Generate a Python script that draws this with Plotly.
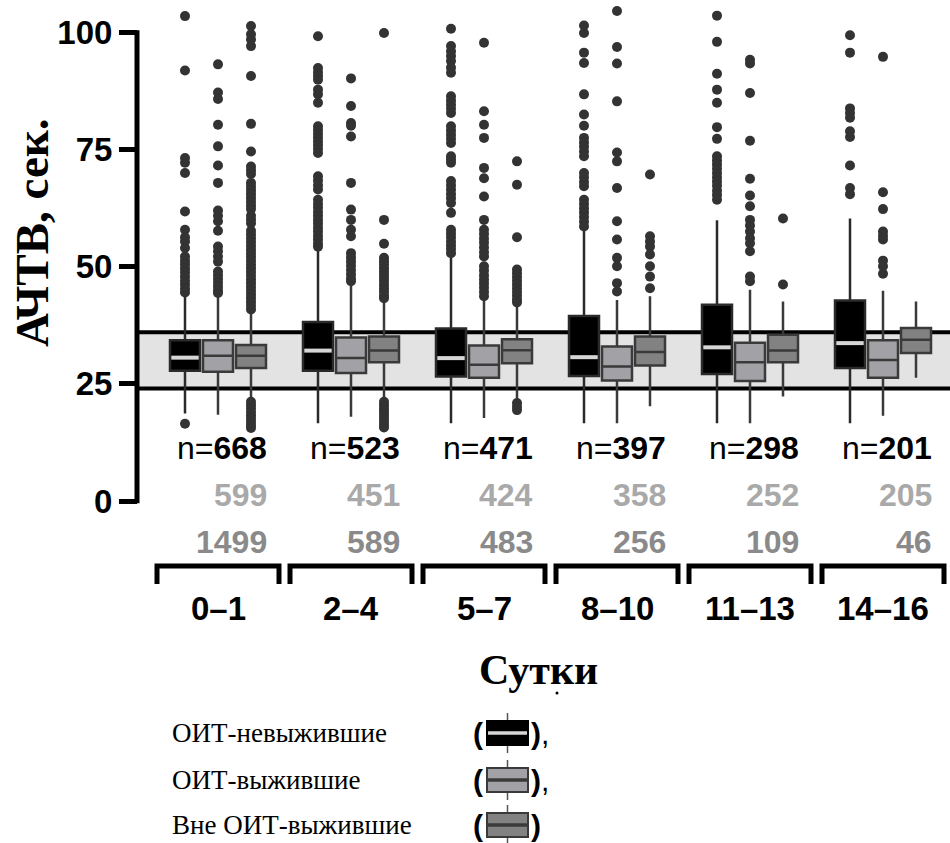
import plotly.graph_objects as go

# ---------------- data ----------------
groups = ["0–1", "2–4", "5–7", "8–10", "11–13", "14–16"]
series_names = ["ОИТ-невыжившие", "ОИТ-выжившие", "Вне ОИТ-выжившие"]

# ОИТ-невыжившие (black)
dead_q1 = [27.8, 27.8, 26.6, 26.7, 27.1, 28.4]
dead_med = [30.6, 32.1, 30.5, 30.7, 32.8, 33.7]
dead_q3 = [34.3, 38.2, 36.8, 39.5, 41.9, 42.8]
dead_lo = [18.7, 16.6, 16.6, 16.6, 16.6, 16.6]
dead_hi = [43.7, 53.6, 51.9, 57.9, 59.9, 60.3]
dead_out = [
    [103.5, 91.9, 73.2, 72.2, 70.0, 61.8, 57.9, 56.3, 55.4, 54.0, 52.2, 51.3, 50.5, 49.6,
     48.8, 47.9, 47.0, 46.2, 45.3, 44.5, 16.5],
    [99.2, 92.4, 91.5, 90.7, 89.9, 87.8, 86.8, 85.0, 80.0, 79.2, 78.4, 77.6, 76.8, 76.0,
     75.2, 74.3, 69.3, 68.4, 67.4, 66.5, 64.3, 63.4, 62.6, 61.7, 60.9, 60.0, 59.2, 58.3,
     57.5, 56.6, 55.8, 54.9, 54.3],
    [100.8, 97.1, 96.0, 95.0, 93.9, 92.5, 91.4, 86.4, 85.5, 84.6, 83.7, 82.8, 80.0, 79.1,
     78.2, 77.3, 76.4, 73.6, 72.9, 72.2, 68.3, 67.4, 66.5, 65.5, 64.6, 63.6, 61.5, 57.9,
     57.1, 56.3, 55.4, 54.6, 53.8, 52.9],
    [101.5, 99.9, 95.7, 93.5, 86.8, 82.5, 80.1, 77.5, 76.5, 75.6, 74.6, 73.6, 70.0, 69.1,
     68.1, 67.2, 64.3, 63.4, 62.5, 61.6, 60.6, 59.6, 58.6],
    [103.6, 98.0, 91.2, 87.8, 85.0, 79.8, 77.3, 73.6, 72.7, 71.8, 70.9, 70.0, 69.1, 68.2,
     67.3, 66.2, 65.3, 64.3],
    [99.4, 95.7, 83.8, 82.8, 81.8, 78.9, 77.7, 71.6, 66.8, 65.5],
]

# ОИТ-выжившие (light grey)
surv_q1 = [27.6, 27.3, 26.3, 25.7, 25.6, 26.3]
surv_med = [31.0, 30.5, 29.1, 28.7, 29.6, 30.1]
surv_q3 = [34.3, 34.9, 33.2, 33.0, 33.8, 34.3]
surv_lo = [18.4, 18.0, 17.7, 16.6, 16.6, 18.2]
surv_hi = [44.0, 46.5, 42.9, 42.9, 45.1, 44.9]
surv_out = [
    [93.2, 87.2, 85.8, 80.3, 75.7, 71.6, 67.9, 62.0, 60.9, 59.7, 57.7, 54.3, 53.3, 52.2,
     51.1, 49.0, 48.2, 47.4, 46.6, 45.8, 45.0, 44.4],
    [90.2, 84.3, 80.7, 80.1, 77.8, 67.9, 62.2, 60.0, 57.9, 56.5, 52.9, 52.0, 51.1, 50.2,
     49.3, 48.4, 47.5, 46.9],
    [97.8, 83.2, 80.3, 77.5, 71.1, 68.9, 65.0, 60.0, 57.9, 57.0, 56.0, 55.1, 54.1, 53.1,
     52.2, 50.1, 49.2, 48.2, 47.3, 46.4, 45.5, 44.6, 43.7],
    [104.6, 96.9, 93.4, 85.3, 74.4, 72.5, 66.8, 59.7, 55.8, 51.9, 50.1, 46.5, 44.7],
    [94.2, 93.4, 87.1, 76.9, 68.8, 65.2, 62.9, 60.0, 58.8, 57.5, 56.1, 55.0, 53.3, 47.9,
     46.9],
    [94.8, 65.9, 62.3, 57.5, 56.6, 55.8, 51.3, 50.1, 48.5],
]

# Вне ОИТ-выжившие (dark grey)
ward_q1 = [28.4, 29.6, 29.4, 28.9, 29.6, 31.6]
ward_med = [31.0, 32.1, 32.2, 31.8, 32.1, 34.4]
ward_q3 = [33.3, 35.1, 34.5, 35.1, 35.5, 36.9]
ward_lo = [21.6, 21.6, 21.9, 20.2, 22.3, 26.3]
ward_hi = [40.1, 42.9, 42.1, 43.7, 42.6, 42.6]
ward_out = [
    [101.4, 99.6, 98.5, 97.1, 90.7, 80.5, 74.6, 71.4, 70.6, 69.8, 67.9, 67.1, 66.3, 65.5,
     64.7, 63.9, 63.1, 62.3, 60.9, 60.1, 59.3, 57.7, 56.9, 56.1, 55.3, 54.5, 53.7, 52.9,
     52.1, 51.3, 50.5, 49.7, 48.9, 48.1, 47.3, 46.5, 45.7, 44.9, 44.1, 43.3, 42.5, 41.7,
     40.9, 21.2, 20.5, 19.8, 19.0, 18.3, 17.6, 16.9, 16.2, 15.6],
    [99.9, 60.0, 54.9, 51.9, 51.2, 50.5, 49.7, 49.0, 48.3, 47.6, 46.9, 46.1, 45.4, 44.7,
     43.9, 43.3, 21.2, 20.5, 19.8, 19.1, 18.4, 17.7, 17.0, 16.3, 15.7],
    [72.5, 67.5, 56.3, 49.4, 48.6, 47.8, 47.0, 46.2, 45.4, 44.6, 43.8, 43.0, 42.4,
     20.9, 20.1, 19.4],
    [69.7, 56.5, 55.4, 54.3, 52.6, 50.1, 47.9, 45.4],
    [60.3, 46.2],
    [],
]

n_dead = [668, 523, 471, 397, 298, 201]
n_surv = [599, 451, 424, 358, 252, 205]
n_ward = [1499, 589, 483, 256, 109, 46]

ref_low, ref_high = 24, 36
y_ticks = [0, 25, 50, 75, 100]

# ---------------- geometry / style ----------------
W, H = 950, 843
GX0, GSTEP = 218.0, 133.0          # pixel of group 0 centre, pixels per group
Y0PX, PXPERY = 501.0, 4.685        # pixel of value 0, pixels per unit
AXIS_PX = 137.0
OFFS = [-33 / GSTEP, 0.0, 33 / GSTEP]
BOXW = 30 / GSTEP

def xp(px):
    return px / W

def yp(py):
    return 1 - py / H

SANS = "Liberation Sans, Arial, Helvetica, sans-serif"
SERIF = "Liberation Serif, Times New Roman, serif"

styles = [
    dict(fill="#000000", line="#2a2a2a", med="#d6d6d6"),
    dict(fill="#a2a2a6", line="#3a3a3a", med="#3a3a3a"),
    dict(fill="#828282", line="#3a3a3a", med="#3a3a3a"),
]
stats = [
    (dead_q1, dead_med, dead_q3, dead_lo, dead_hi, dead_out),
    (surv_q1, surv_med, surv_q3, surv_lo, surv_hi, surv_out),
    (ward_q1, ward_med, ward_q3, ward_lo, ward_hi, ward_out),
]

fig = go.Figure()
gidx = list(range(len(groups)))

for s, (q1, med, q3, lo, hi, outs) in enumerate(stats):
    st = styles[s]
    xs = [g + OFFS[s] for g in gidx]
    fig.add_trace(go.Box(
        x=xs, q1=q1, median=med, q3=q3, lowerfence=lo, upperfence=hi,
        width=BOXW, whiskerwidth=0, boxpoints=False,
        fillcolor=st["fill"], line=dict(color=st["line"], width=2.5),
        name=series_names[s], showlegend=False, hoverinfo="skip",
    ))
    if s == 0:
        mx, my = [], []
        for g in gidx:
            mx += [g + OFFS[s] - BOXW / 2 + 0.01, g + OFFS[s] + BOXW / 2 - 0.01, None]
            my += [med[g], med[g], None]
        fig.add_trace(go.Scatter(x=mx, y=my, mode="lines",
                                 line=dict(color=st["med"], width=4),
                                 showlegend=False, hoverinfo="skip"))
    ox, oy = [], []
    for g in gidx:
        for v in outs[g]:
            ox.append(g + OFFS[s])
            oy.append(v)
    fig.add_trace(go.Scatter(x=ox, y=oy, mode="markers",
                             marker=dict(color="#333333", size=10, line=dict(width=0)),
                             showlegend=False, hoverinfo="skip"))

shapes = []
# reference band
shapes.append(dict(type="rect", xref="paper", yref="y", x0=xp(AXIS_PX), x1=1,
                   y0=ref_low, y1=ref_high, fillcolor="#e3e3e3", line=dict(width=0),
                   layer="below"))
for v in (ref_low, ref_high):
    shapes.append(dict(type="line", xref="paper", yref="y", x0=xp(AXIS_PX), x1=1,
                       y0=v, y1=v, line=dict(color="black", width=4), layer="below"))
# y axis line
shapes.append(dict(type="line", xref="paper", yref="y", x0=xp(AXIS_PX), x1=xp(AXIS_PX),
                   y0=-0.5, y1=100.5, line=dict(color="black", width=5)))
# brackets
for g in gidx:
    a, b = g - 61 / GSTEP, g + 61 / GSTEP
    shapes.append(dict(type="path", xref="x", yref="paper",
                       path=f"M {a},{yp(584)} L {a},{yp(566)} L {b},{yp(566)} L {b},{yp(584)}",
                       line=dict(color="black", width=5)))

annotations = []
for g in gidx:
    xr = g + 51 / GSTEP
    annotations.append(dict(x=xr, y=yp(448), xref="x", yref="paper", xanchor="right",
                            yanchor="middle", showarrow=False, text=f"n=<b>{n_dead[g]}</b>",
                            font=dict(family=SANS, size=32, color="black")))
    annotations.append(dict(x=xr, y=yp(495), xref="x", yref="paper", xanchor="right",
                            yanchor="middle", showarrow=False, text=f"<b>{n_surv[g]}</b>",
                            font=dict(family=SANS, size=32, color="#a9a9a9")))
    annotations.append(dict(x=xr, y=yp(542), xref="x", yref="paper", xanchor="right",
                            yanchor="middle", showarrow=False, text=f"<b>{n_ward[g]}</b>",
                            font=dict(family=SANS, size=32, color="#8a8a8a")))
    annotations.append(dict(x=g, y=yp(608), xref="x", yref="paper", xanchor="center",
                            yanchor="middle", showarrow=False, text=f"<b>{groups[g]}</b>",
                            font=dict(family=SANS, size=33, color="black")))

# axis titles
annotations.append(dict(x=xp(32), y=yp(233), xref="paper", yref="paper", showarrow=False,
                        textangle=-90, xanchor="center", yanchor="middle",
                        text="<b>АЧТВ, сек.</b>", font=dict(family=SERIF, size=47, color="black")))
annotations.append(dict(x=xp(538), y=yp(670), xref="paper", yref="paper", showarrow=False,
                        xanchor="center", yanchor="middle",
                        text="<b>Сутки</b>", font=dict(family=SERIF, size=42, color="black")))
shapes.append(dict(type="circle", xref="paper", yref="paper", x0=xp(555.5), x1=xp(558.5),
                   y0=yp(694.5), y1=yp(691.5), fillcolor="black", line=dict(width=0)))

# custom legend
leg_y = [733, 780, 825]
for s in range(3):
    c = leg_y[s]
    st = styles[s]
    annotations.append(dict(x=xp(170), y=yp(c), xref="paper", yref="paper", showarrow=False,
                            xanchor="left", yanchor="middle", text=series_names[s],
                            font=dict(family=SERIF, size=27, color="black")))
    annotations.append(dict(x=xp(478), y=yp(c), xref="paper", yref="paper", showarrow=False,
                            xanchor="center", yanchor="middle", text="<b>(</b>",
                            font=dict(family=SANS, size=30, color="black")))
    annotations.append(dict(x=xp(536), y=yp(c), xref="paper", yref="paper", showarrow=False,
                            xanchor="center", yanchor="middle",
                            text="<b>)</b>" + ("," if s < 2 else ""),
                            font=dict(family=SANS, size=30, color="black"),
                            xshift=(4 if s < 2 else 0)))
    shapes.append(dict(type="line", xref="paper", yref="paper", x0=xp(507.5), x1=xp(507.5),
                       y0=yp(c - 20), y1=yp(c + 20), line=dict(color="#555555", width=1.5)))
    shapes.append(dict(type="rect", xref="paper", yref="paper", x0=xp(487), x1=xp(528),
                       y0=yp(c + 12), y1=yp(c - 12), fillcolor=st["fill"],
                       line=dict(color=("black" if s == 0 else st["line"]), width=2)))
    shapes.append(dict(type="line", xref="paper", yref="paper", x0=xp(488), x1=xp(527),
                       y0=yp(c), y1=yp(c), line=dict(color=st["med"], width=3.5)))

fig.update_layout(
    width=W, height=H, margin=dict(l=0, r=0, t=0, b=0),
    paper_bgcolor="white", plot_bgcolor="white",
    showlegend=False, boxmode="overlay",
    xaxis=dict(range=[(0 - GX0) / GSTEP, (W - GX0) / GSTEP], domain=[0, 1], visible=False,
               fixedrange=True),
    yaxis=dict(range=[(Y0PX - H) / PXPERY, Y0PX / PXPERY], domain=[0, 1], anchor="free",
               position=xp(AXIS_PX), tickvals=y_ticks, ticktext=[str(v) for v in y_ticks],
               ticks="outside", ticklen=18, tickwidth=5, tickcolor="black",
               showline=False, showgrid=False, zeroline=False,
               tickfont=dict(family=SANS, size=33, color="black", weight="bold"),
               fixedrange=True),
    shapes=shapes, annotations=annotations,
)

fig.write_html("out.html")
